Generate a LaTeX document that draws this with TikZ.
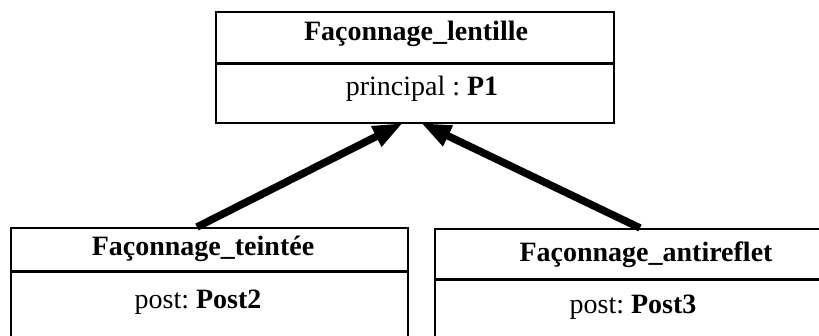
\documentclass[tikz,border=0pt]{standalone}
\usepackage{fontspec}
\setmainfont{Liberation Serif}
\usetikzlibrary{arrows.meta}
\frenchspacing
\tikzset{
  classbox/.style={draw, line width=2pt, inner sep=0pt, anchor=north west},
  divider/.style={line width=3pt},
  lbl/.style={anchor=base, inner sep=0pt, font=\fontsize{28}{32}\selectfont},
  inherit/.style={line width=7.5pt, -{Triangle[length=30pt,width=21pt]}}
}
\begin{document}
\begin{tikzpicture}[x=1pt,y=-1pt]
\useasboundingbox (0,0) rectangle (819,336);
\clip (0,0) rectangle (819,336);
% top class
\node[classbox, minimum width=398pt, minimum height=111pt] (top) at (215,11) {};
\draw[divider] (top.west |- 0,64) -- (top.east |- 0,64);
\node[lbl] (ttitle) at (416,41) {\textbf{Façonnage\_lentille}};
\node[lbl] (tattr) at (422,96) {principal : \textbf{P1}};
% left class
\node[classbox, minimum width=397pt, minimum height=130pt] (left) at (10,227) {};
\draw[divider] (left.west |- 0,272) -- (left.east |- 0,272);
\node[lbl] (ltitle) at (203,256) {\textbf{Façonnage\_teintée}};
\node[lbl] (lattr) at (198,309) {post: \textbf{Post2}};
% right class
\node[classbox, minimum width=400pt, minimum height=130pt] (right) at (434,228) {};
\draw[divider] (right.west |- 0,280) -- (right.east |- 0,280);
\node[lbl] (rtitle) at (646,262) {\textbf{Façonnage\_antireflet}};
\node[lbl] (rattr) at (633,314) {post: \textbf{Post3}};
% connectors
\coordinate (ls) at (197,227);
\coordinate (lt) at (403,123);
\coordinate (rs) at (640,228);
\coordinate (rt) at (421,123);
\draw[inherit] (ls) -- (lt);
\draw[inherit] (rs) -- (rt);
\end{tikzpicture}
\end{document}
